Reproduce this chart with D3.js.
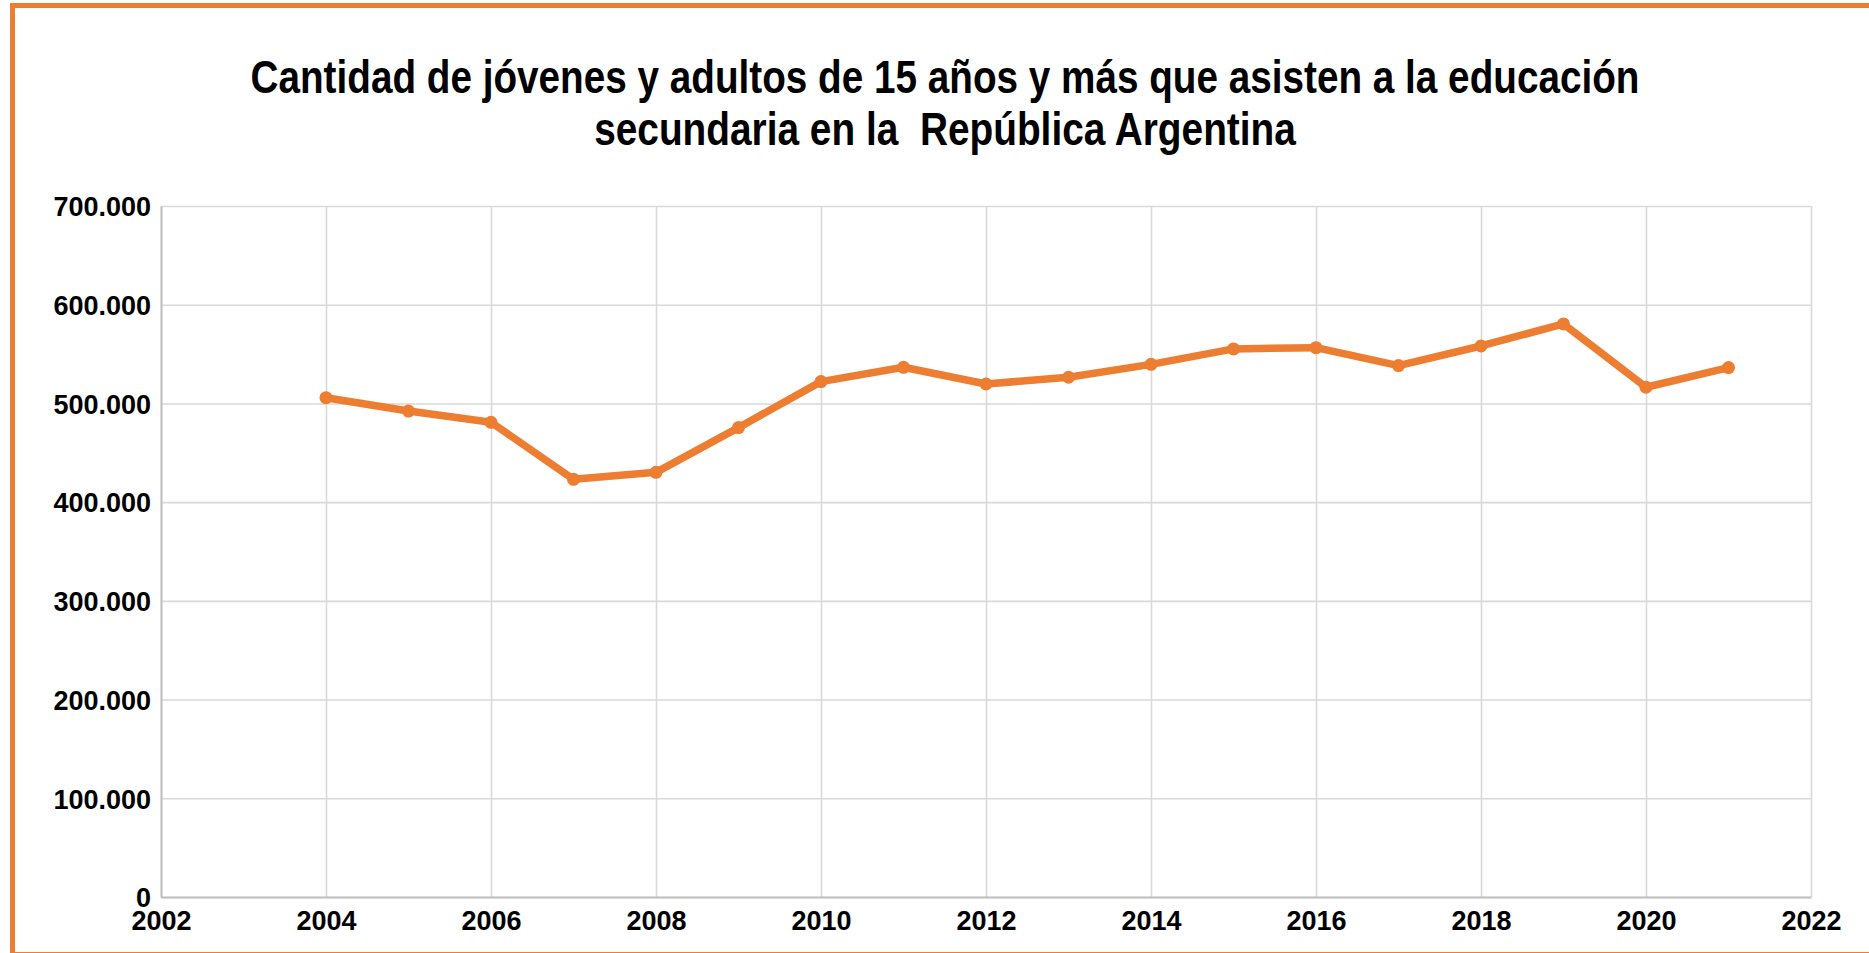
<!DOCTYPE html>
<html>
<head>
<meta charset="utf-8">
<script src="https://cdn.jsdelivr.net/npm/d3@7"></script>
<style>
  body { margin: 0; background: #fff; }
  svg { display: block; }
</style>
</head>
<body>
<svg id="chart" width="1869" height="953"></svg>
<script>
// data
let years = [2004, 2005, 2006, 2007, 2008, 2009, 2010, 2011, 2012, 2013, 2014, 2015, 2016, 2017, 2018, 2019, 2020, 2021]
let students = [505800, 492300, 480900, 423100, 430200, 475500, 522100, 536600, 519700, 526500, 539600, 555200, 556500, 538300, 558200, 580500, 516400, 536300]
let xTicks = [2002, 2004, 2006, 2008, 2010, 2012, 2014, 2016, 2018, 2020, 2022]
let yTicks = [0, 100000, 200000, 300000, 400000, 500000, 600000, 700000]
let titleLines = ['Cantidad de jóvenes y adultos de 15 años y más que asisten a la educación', 'secundaria en la  República Argentina']
let titleWidths = [1389, 702]

let svg = d3.select('#chart')
let margin = { top: 206, right: 58, bottom: 56, left: 161 }
let width = +svg.attr('width') - margin.left - margin.right
let height = +svg.attr('height') - margin.top - margin.bottom
let orange = '#ed7d31'

// frame (only top and left edges fall inside the window)
svg.append('rect')
  .attr('x', 12.5).attr('y', 5.5)
  .attr('width', 1900).attr('height', 949)
  .attr('fill', 'none')
  .attr('stroke', orange)
  .attr('stroke-width', 5)

// title, squeezed horizontally to the condensed look of the original
svg.selectAll('.title')
  .data(titleLines)
  .enter().append('text')
  .attr('class', 'title')
  .attr('text-anchor', 'middle')
  .style('white-space', 'pre')
  .style('font-family', "'Liberation Sans', Arial, sans-serif")
  .style('font-weight', 'bold')
  .style('font-size', '46px')
  .text(function (d) { return d })
  .attr('transform', function (d, i) {
    let k = titleWidths[i] / this.getComputedTextLength()
    return 'translate(945,' + (93 + i * 52) + ') scale(' + k + ',1)'
  })

let g = svg.append('g').attr('transform', 'translate(' + margin.left + ',' + margin.top + ')')

let x = d3.scaleLinear().domain([2002, 2022]).range([0, width])
let y = d3.scaleLinear().domain([0, 700000]).range([height, 0])

let locale = d3.formatLocale({ decimal: ',', thousands: '.', grouping: [3], currency: ['$', ''] })
let fmt = locale.format(',d')

// grid
g.append('g')
  .attr('class', 'grid')
  .call(d3.axisLeft(y).tickValues(yTicks).tickSize(-width).tickFormat(''))
  .call(function (s) { s.select('.domain').remove() })
g.append('g')
  .attr('class', 'grid')
  .attr('transform', 'translate(0,' + height + ')')
  .call(d3.axisBottom(x).tickValues(xTicks).tickSize(-height).tickFormat(''))
  .call(function (s) { s.select('.domain').remove() })
g.selectAll('.grid line').attr('stroke', '#d9d9d9').attr('stroke-width', 1.6)

// axes
let yAxis = g.append('g')
  .call(d3.axisLeft(y).tickValues(yTicks).tickSize(0).tickPadding(10).tickFormat(fmt))
let xAxis = g.append('g')
  .attr('transform', 'translate(0,' + height + ')')
  .call(d3.axisBottom(x).tickValues(xTicks).tickSize(0).tickPadding(14).tickFormat(d3.format('d')))

svg.selectAll('.domain').attr('stroke', '#bfbfbf').attr('stroke-width', 2)
svg.selectAll('.tick text')
  .attr('fill', '#000')
  .style('font-family', "'Liberation Sans', Arial, sans-serif")
  .style('font-weight', 'bold')
  .style('font-size', '27px')
yAxis.selectAll('.tick text').attr('dy', '0.36em')
xAxis.selectAll('.tick text').attr('dy', '0.71em')

// series
let data = years.map(function (d, i) { return { year: d, value: students[i] } })

let line = d3.line()
  .x(function (d) { return x(d.year) })
  .y(function (d) { return y(d.value) })

g.append('path')
  .datum(data)
  .attr('d', line)
  .attr('fill', 'none')
  .attr('stroke', orange)
  .attr('stroke-width', 7.5)
  .attr('stroke-linejoin', 'round')

g.selectAll('.dot')
  .data(data)
  .enter().append('circle')
  .attr('class', 'dot')
  .attr('cx', function (d) { return x(d.year) })
  .attr('cy', function (d) { return y(d.value) })
  .attr('r', 6.5)
  .attr('fill', orange)
</script>
</body>
</html>
